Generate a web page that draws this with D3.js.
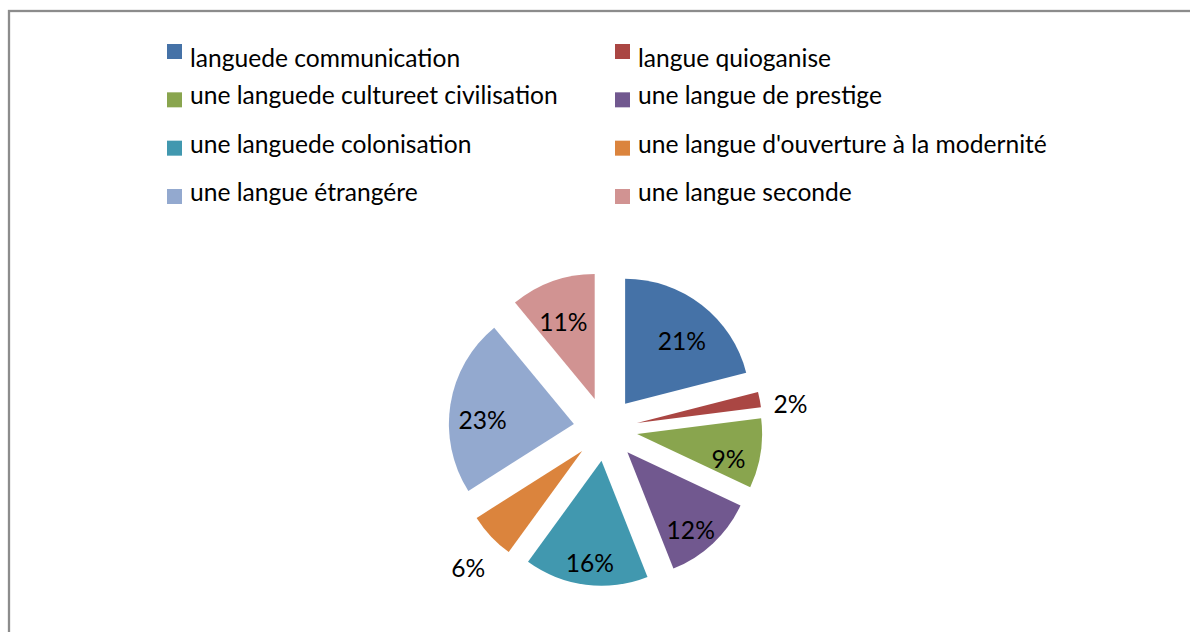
<!DOCTYPE html>
<html>
<head>
<meta charset="utf-8">
<script src="https://cdn.jsdelivr.net/npm/d3@7"></script>
<style>
  body { margin: 0; background: #fff; }
  svg { display: block; font-family: Lato, "Noto Sans", sans-serif; }
</style>
</head>
<body>
<svg id="chart" width="1190" height="632"></svg>
<script>
const categories = [
  "languede communication",
  "langue quioganise",
  "une languede cultureet civilisation",
  "une langue de prestige",
  "une languede colonisation",
  "une langue d'ouverture à la modernité",
  "une langue étrangére",
  "une langue seconde"
];
const values = [21, 2, 9, 12, 16, 6, 23, 11];
const colors = ["#4572a7", "#aa4643", "#89a54e", "#71588f", "#4198af", "#db843d", "#93a9cf", "#d19392"];

const svg = d3.select("#chart");

// chart frame (only top/left edges fall inside the picture)
svg.append("rect")
  .attr("x", 9).attr("y", 11)
  .attr("width", 1200).attr("height", 640)
  .attr("fill", "none")
  .attr("stroke", "#8c8c8c")
  .attr("stroke-width", 2.3);

// legend: two columns, filled row by row
const legendX = d3.scaleOrdinal().domain([0, 1]).range([167, 615]);
const legendY = d3.scaleLinear().domain([0, 3]).range([44, 189]);
const legend = svg.append("g").attr("class", "legend")
  .selectAll("g")
  .data(categories.map((c, i) => ({ c, i })))
  .join("g")
  .attr("transform", d => `translate(${legendX(d.i % 2)},${legendY(Math.floor(d.i / 2))})`);

legend.append("rect")
  .attr("width", 15).attr("height", 15)
  .attr("fill", d => colors[d.i]);

legend.append("text")
  .attr("x", 23)
  .attr("y", d => Math.floor(d.i / 2) === 0 ? 23 : 12)
  .attr("font-size", 24.6)
  .attr("fill", "#000")
  .text(d => d.c);

// exploded pie
const cx = 605.5, cy = 429, r = 125, explode = 32;
const pie = d3.pie().sort(null).value(d => d)(values);
const arc = d3.arc().innerRadius(0).outerRadius(r);

const slices = svg.append("g")
  .attr("transform", `translate(${cx},${cy})`)
  .selectAll("g")
  .data(pie)
  .join("g")
  .attr("transform", d => {
    const a = (d.startAngle + d.endAngle) / 2;
    return `translate(${explode * Math.sin(a)},${-explode * Math.cos(a)})`;
  });

slices.append("path")
  .attr("d", arc)
  .attr("fill", (d, i) => colors[i]);

slices.append("text")
  .attr("transform", d => {
    const a = (d.startAngle + d.endAngle) / 2;
    const lr = d.data < 7 ? r * 1.25 : r * 0.74;
    return `translate(${lr * Math.sin(a)},${-lr * Math.cos(a)})`;
  })
  .attr("text-anchor", "middle")
  .attr("dy", "0.78em")
  .attr("font-size", 24.6)
  .attr("fill", "#000")
  .text(d => d.data + "%");
</script>
</body>
</html>
